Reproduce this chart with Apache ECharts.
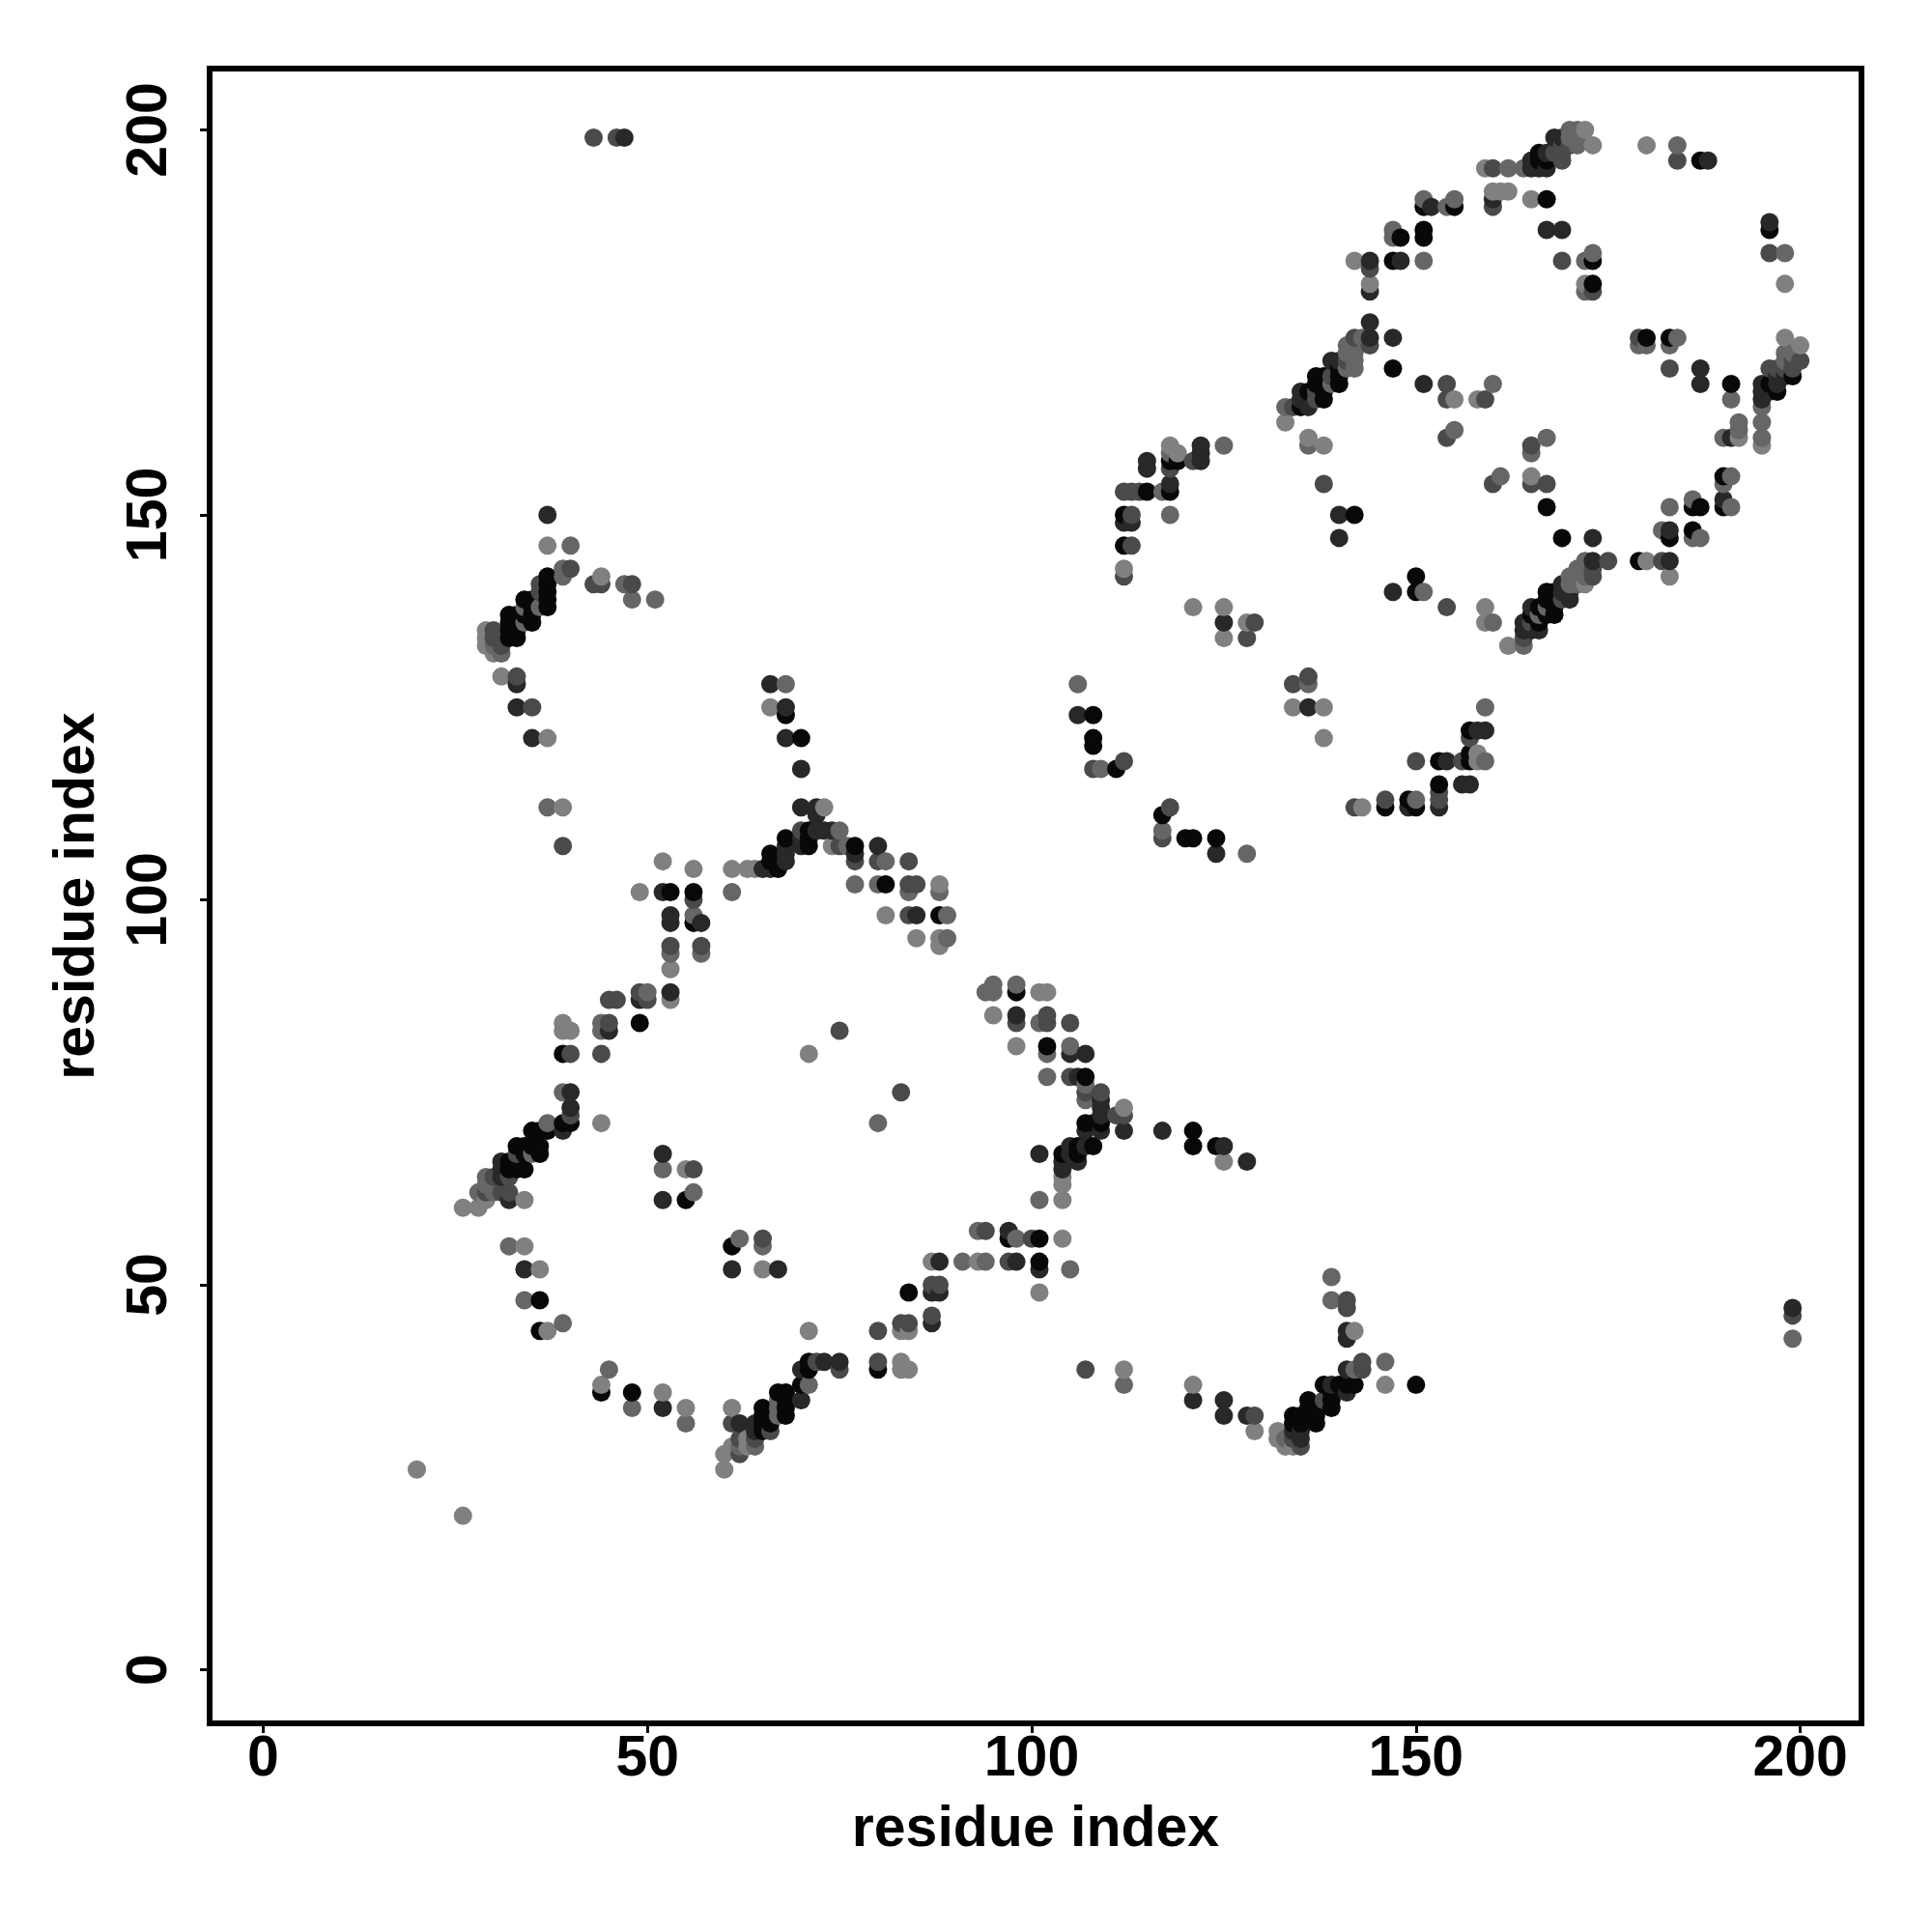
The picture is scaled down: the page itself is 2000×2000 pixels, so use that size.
<!DOCTYPE html>
<html>
<head>
<meta charset="utf-8">
<style>html,body{margin:0;padding:0;background:#fff}#chart{width:2000px;height:2000px}</style>
<script src="https://cdn.jsdelivr.net/npm/echarts@6/dist/echarts.min.js"></script>
</head>
<body>
<div id="chart"></div>
<script>
const tickValues = [0, 50, 100, 150, 200];
const axisTitle = "residue index";
const shades = ["#080808", "#282828", "#4a4a4a", "#666666", "#808080"];
const blackContacts = [[39,80],[49,84],[39,71],[40,71],[35,70],[36,70],[37,70],[33,68],[34,68],[35,68],[36,68],[36,67],[34,67],[32,66],[33,66],[32,65],[33,65],[34,65],[55,61],[36,48],[36,44],[44,36],[48,36],[65,31],[65,32],[66,32],[65,33],[66,33],[65,34],[68,33],[68,34],[68,35],[67,36],[68,36],[70,37],[71,39],[71,40],[80,39],[84,49],[61,55],[81,102],[88,98],[56,101],[56,97],[68,108],[71,109],[71,108],[71,107],[66,106],[66,105],[67,105],[67,104],[77,107],[53,101],[68,124],[70,121],[37,142],[37,141],[37,140],[37,139],[37,138],[34,139],[35,139],[35,138],[34,137],[35,137],[32,137],[33,137],[32,136],[33,136],[35,136],[32,135],[33,135],[32,134],[33,134],[151,190],[155,190],[151,187],[151,186],[148,186],[147,183],[173,183],[173,180],[167,191],[166,197],[166,196],[167,196],[187,196],[196,187],[180,173],[183,173],[191,167],[199,168],[197,166],[196,167],[137,168],[138,168],[140,168],[137,167],[138,167],[140,167],[140,169],[136,166],[138,166],[138,165],[135,164],[118,157],[119,157],[118,153],[115,153],[112,150],[112,146],[142,150],[150,142],[150,140],[167,151],[147,169],[186,151],[187,151],[190,151],[190,155],[186,148],[183,147],[169,147],[179,144],[167,140],[168,140],[167,139],[168,139],[166,138],[168,138],[165,137],[167,137],[168,137],[166,136],[108,124],[108,121],[108,120],[111,117],[117,111],[120,108],[121,108],[124,108],[157,122],[153,118],[157,118],[157,119],[153,115],[146,112],[149,113],[150,112],[98,88],[102,81],[107,71],[108,71],[109,71],[108,68],[106,68],[104,67],[106,67],[121,70],[121,68],[124,68],[97,56],[101,56],[101,53],[136,35],[139,35],[136,34],[137,34],[139,34],[134,33],[135,33],[136,33],[137,33],[134,32],[135,32],[137,32],[138,37],[140,37],[141,37],[142,37],[139,36],[150,37],[107,77]];
const darkContacts = [[53,88],[49,87],[45,83],[40,75],[40,73],[39,70],[31,66],[31,65],[31,64],[32,61],[52,67],[52,61],[34,52],[61,52],[67,52],[52,34],[64,32],[64,31],[62,32],[73,40],[75,40],[88,53],[87,49],[88,49],[87,45],[70,35],[70,39],[37,150],[144,183],[152,190],[160,191],[148,183],[144,179],[144,175],[144,173],[147,173],[139,170],[140,170],[135,166],[135,165],[136,164],[122,159],[122,158],[122,157],[115,157],[115,156],[118,154],[112,149],[113,149],[140,150],[140,147],[151,167],[136,125],[165,196],[165,195],[166,195],[167,195],[167,197],[168,199],[169,199],[188,196],[167,187],[169,187],[196,188],[187,169],[187,167],[197,168],[198,168],[195,167],[197,167],[195,166],[196,166],[195,165],[191,160],[190,152],[183,148],[173,147],[173,144],[183,144],[169,141],[169,140],[170,140],[170,139],[165,138],[164,136],[164,135],[165,135],[166,135],[147,140],[125,136],[106,124],[124,106],[158,122],[159,122],[154,118],[156,115],[157,115],[153,112],[149,112],[66,128],[68,125],[68,121],[70,117],[70,112],[72,112],[72,111],[72,109],[73,109],[74,109],[68,107],[68,106],[68,105],[70,108],[70,107],[65,104],[66,104],[77,106],[80,107],[85,98],[53,98],[53,97],[57,97],[52,101],[33,128],[33,125],[35,121],[98,85],[105,80],[107,80],[106,77],[109,74],[109,73],[109,72],[107,70],[109,70],[112,70],[107,68],[105,68],[104,66],[104,65],[106,66],[105,67],[101,67],[117,70],[125,68],[128,66],[125,35],[125,33],[128,33],[121,35],[97,57],[98,53],[101,52],[141,44],[141,43],[141,39],[139,37],[141,36],[134,31],[135,31],[135,30],[199,47],[47,199]];
const midContacts = [[45,87],[46,87],[49,88],[50,87],[45,84],[40,80],[44,80],[40,72],[32,64],[30,64],[29,62],[31,62],[32,62],[61,32],[62,30],[62,28],[64,30],[66,31],[33,67],[56,65],[75,39],[72,40],[80,40],[80,44],[84,45],[83,45],[87,46],[87,50],[88,50],[75,83],[83,75],[65,56],[160,190],[144,182],[160,195],[134,164],[137,166],[137,165],[139,168],[142,173],[141,170],[144,172],[154,167],[154,165],[159,165],[154,160],[160,154],[138,154],[113,150],[113,146],[112,142],[114,153],[113,153],[112,153],[118,156],[121,157],[169,198],[170,198],[168,197],[169,197],[169,196],[169,183],[184,196],[179,173],[183,169],[199,170],[200,170],[198,169],[199,169],[196,169],[197,169],[196,184],[173,179],[165,159],[165,154],[167,154],[169,139],[165,136],[164,134],[173,143],[173,142],[175,144],[182,144],[154,138],[129,136],[128,134],[134,128],[136,129],[108,117],[112,118],[118,112],[117,108],[142,112],[146,113],[153,114],[153,113],[157,121],[150,118],[156,118],[70,109],[75,107],[77,105],[80,105],[84,105],[84,102],[85,102],[84,98],[56,100],[57,94],[53,94],[43,141],[44,141],[48,141],[40,143],[36,140],[36,141],[30,135],[30,134],[31,133],[33,129],[35,125],[39,107],[105,84],[102,84],[102,85],[98,84],[105,77],[107,75],[109,75],[111,72],[112,72],[107,39],[100,56],[94,57],[97,53],[143,40],[129,33],[141,48],[141,47],[143,39],[134,30],[135,29],[138,35],[43,199],[46,199],[199,46]];
const grayContacts = [[40,146],[44,84],[44,83],[39,75],[37,71],[30,63],[29,64],[28,62],[30,62],[29,63],[32,55],[34,48],[39,45],[45,39],[48,34],[55,32],[56,62],[62,56],[65,55],[64,29],[62,29],[80,71],[50,88],[67,34],[67,35],[67,33],[71,37],[35,67],[52,65],[147,187],[147,186],[151,191],[155,191],[154,190],[151,183],[160,167],[133,164],[141,172],[141,171],[142,172],[142,171],[143,173],[142,170],[141,169],[142,169],[139,167],[125,159],[136,159],[118,158],[117,153],[118,150],[155,161],[161,155],[170,200],[171,200],[170,199],[171,199],[171,198],[184,198],[162,195],[164,195],[172,183],[173,184],[172,179],[179,172],[180,172],[183,172],[184,173],[198,184],[198,170],[198,171],[199,171],[191,165],[195,164],[195,162],[192,162],[195,160],[190,160],[192,161],[191,155],[190,154],[167,160],[165,158],[191,151],[186,152],[183,151],[186,147],[187,147],[182,148],[172,144],[172,143],[171,143],[172,142],[171,142],[170,142],[170,141],[171,141],[167,138],[166,137],[164,133],[160,136],[159,125],[159,118],[106,128],[136,128],[109,117],[117,109],[128,106],[151,140],[150,113],[68,128],[61,101],[77,102],[80,102],[84,101],[88,101],[89,98],[89,95],[53,93],[57,93],[76,107],[81,105],[75,109],[56,98],[98,89],[94,88],[95,88],[95,89],[93,57],[98,56],[102,77],[105,81],[107,76],[107,74],[101,61],[101,84],[102,80],[112,37],[91,53],[94,53],[105,52],[142,39],[139,51],[139,48],[146,40],[133,30],[36,138],[34,138],[37,112],[47,141],[48,139],[51,139],[39,143],[39,142],[30,133],[31,132],[199,43],[34,136]];
const lightContacts = [[20,26],[26,20],[26,60],[28,60],[29,61],[34,61],[34,55],[36,52],[37,44],[53,91],[53,87],[39,84],[39,83],[40,83],[44,71],[71,80],[71,44],[55,65],[65,52],[44,37],[52,36],[55,34],[60,26],[60,28],[61,34],[61,29],[63,30],[63,29],[83,44],[84,44],[83,40],[83,39],[84,39],[87,53],[142,183],[160,192],[144,180],[136,160],[138,159],[133,162],[118,159],[119,158],[112,143],[155,165],[158,165],[159,195],[172,200],[173,198],[180,198],[161,192],[162,192],[165,191],[172,180],[198,180],[198,173],[200,172],[192,160],[195,159],[172,141],[165,155],[183,142],[180,144],[159,138],[159,136],[162,133],[121,138],[125,138],[125,134],[128,136],[134,125],[138,125],[138,121],[143,112],[158,119],[158,118],[37,146],[44,142],[37,121],[39,112],[31,129],[29,135],[30,132],[29,134],[29,133],[52,105],[56,104],[61,104],[63,104],[64,104],[49,101],[74,107],[73,112],[88,102],[81,98],[85,95],[88,95],[88,94],[66,125],[95,85],[101,88],[102,88],[98,81],[104,63],[104,64],[104,61],[104,56],[93,53],[101,49],[112,73],[112,39],[121,37],[125,66],[129,31],[142,44],[146,37],[132,31],[132,30],[133,29],[134,29]];

const contacts = [blackContacts, darkContacts, midContacts, grayContacts, lightContacts]
  .flatMap((list, level) => list.map(p => [p[0], p[1], level]))
  .sort((a, b) => a[0] - b[0] || a[1] - b[1]);

const fontFamily = '"Liberation Sans", Arial, sans-serif';
function axis(extra) {
  return Object.assign({
    type: "value",
    min: -6.96,
    max: 207.96,
    name: axisTitle,
    nameLocation: "middle",
    nameTextStyle: { fontFamily, fontWeight: "bold", fontSize: 59, color: "#000" },
    splitLine: { show: false },
    axisLine: { show: false, onZero: false },
    axisTick: { show: true, length: 10, inside: false, customValues: tickValues, lineStyle: { color: "#000", width: 3 } }
  }, extra);
}
const chart = echarts.init(document.getElementById("chart"), null, { renderer: "canvas", width: 2000, height: 2000 });
chart.setOption({
  animation: false,
  backgroundColor: "#fff",
  grid: { left: 217, top: 71, width: 1710, height: 1713, show: true, borderColor: "#000", borderWidth: 6, backgroundColor: "transparent", z: 5 },
  xAxis: axis({
    nameGap: 81,
    axisLabel: { customValues: tickValues, margin: 8, fontFamily, fontWeight: "bold", fontSize: 59, color: "#000" }
  }),
  yAxis: axis({
    nameGap: 107,
    axisLabel: { customValues: tickValues, rotate: 90, margin: 32, fontFamily, fontWeight: "bold", fontSize: 59, color: "#000" }
  }),
  series: [{
    type: "scatter",
    data: contacts,
    symbol: "circle",
    symbolSize: 19,
    silent: true,
    itemStyle: { color: p => shades[p.value[2]], opacity: 1 }
  }]
});
</script>
</body>
</html>
